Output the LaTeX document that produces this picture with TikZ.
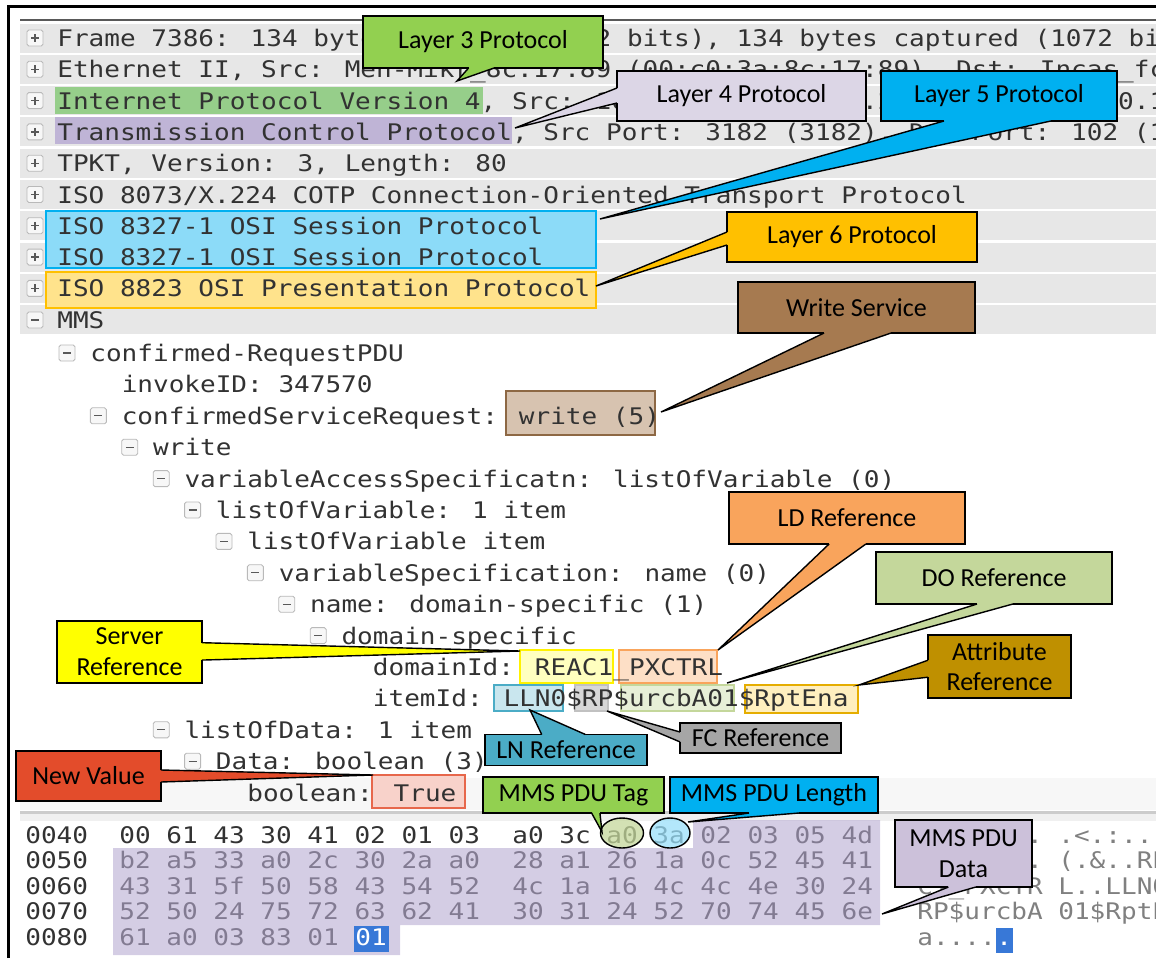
\documentclass[tikz,border=0pt]{standalone}
\usepackage{fontspec}
\usepackage{tikz}
\usetikzlibrary{positioning,calc,shapes.geometric}
\newfontfamily\wsfont[FakeStretch=1.14]{DejaVu Sans Mono}
\newfontfamily\callfont{Carlito}
\definecolor{rowgrey}{RGB}{231,231,231}
\definecolor{wstext}{RGB}{50,50,50}
\definecolor{ipmark}{RGB}{150,206,138}
\definecolor{laythree}{RGB}{146,208,80}
\definecolor{layfour}{RGB}{220,214,230}
\definecolor{layfive}{RGB}{0,176,240}
\definecolor{laysix}{RGB}{255,192,0}
\definecolor{service}{RGB}{166,122,80}
\definecolor{ldref}{RGB}{249,164,92}
\definecolor{doref}{RGB}{196,215,155}
\definecolor{attref}{RGB}{191,144,0}
\definecolor{fcref}{RGB}{166,166,166}
\definecolor{lnref}{RGB}{75,172,198}
\definecolor{srvref}{RGB}{255,255,0}
\definecolor{newval}{RGB}{227,76,43}
\definecolor{pdudata}{RGB}{204,193,218}
\definecolor{hexmark}{RGB}{184,172,210}
\definecolor{selblue}{RGB}{56,120,215}
\tikzset{
  treetext/.style={anchor=base west, inner sep=0pt, text=wstext,
    font=\wsfont\fontsize{13}{15}\selectfont},
  callbox/.style={draw, line width=0.8pt, outer sep=0pt, inner sep=0pt,
    align=center, font=\callfont\fontsize{14.8}{17.5}\selectfont},
  arm/.style={line width=0.8pt},
  expbox/.style={draw=gray!55, fill=gray!6, rounded corners=1pt, line width=0.5pt},
  expsign/.style={draw=gray!70!black, line width=0.7pt},
  fieldmark/.style={line width=1.2pt}
}
% tree expanders
\newcommand{\expplus}[2]{%
  \draw[expbox] (#1-8,#2-8) rectangle (#1+8,#2+8);
  \draw[expsign] (#1-4,#2) -- (#1+4,#2) (#1,#2-4) -- (#1,#2+4);}
\newcommand{\expminus}[2]{%
  \draw[expbox] (#1-8,#2-8) rectangle (#1+8,#2+8);
  \draw[expsign] (#1-4,#2) -- (#1+4,#2);}
% pointer of a callout: colour, base start, base end, tip
\newcommand{\calloutarm}[4]{%
  \fill[#1] (#2) -- (#4) -- (#3) -- cycle;
  \draw[#1, line width=1.6pt] (#2) -- (#3);
  \draw[arm] (#2) -- (#4) -- (#3);}

\begin{document}
\begin{tikzpicture}[x=0.2mm, y=-0.2mm]
\useasboundingbox (0,0) rectangle (1156,958);

% window frame
\draw[line width=0.6mm] (8,958) -- (8,6) -- (1160,6);
\draw[gray!70!black, line width=0.4mm] (20,20) -- (1160,20);

% row backgrounds
\foreach \i in {0,...,9}
  \fill[rowgrey] (20,38+31.3*\i-14.5) rectangle (1160,38+31.3*\i+14.5);
\fill[gray!6] (20,778) rectangle (1160,810);

% highlighted fields
\fill[ipmark] (55,87) rectangle (483,114);
\fill[hexmark!90] (55,117) rectangle (512,144);
\draw[fieldmark, draw=layfive, fill=layfive!45] (46,211) rectangle (596,268);
\draw[fieldmark, draw=laysix, fill=laysix!45] (46,272) rectangle (596,308);
\draw[fieldmark, draw=service!85!black, fill=service!45] (506,391) rectangle (655,435);
\draw[fieldmark, draw=srvref!90!orange, fill=srvref!25] (520,650) rectangle (613,683);
\draw[fieldmark, draw=ldref, fill=ldref!35] (619,650) rectangle (717,683);
\draw[fieldmark, draw=lnref, fill=lnref!30] (494,685) rectangle (563,711);
\draw[fieldmark, draw=fcref!70, fill=fcref!45] (575,685) rectangle (608,711);
\draw[fieldmark, draw=doref, fill=doref!40] (621,685) rectangle (734,711);
\draw[fieldmark, draw=laysix!90!black, fill=laysix!25] (745,685) rectangle (858,713);
\draw[fieldmark, draw=newval!85, fill=newval!25] (372,775) rectangle (465,808);

% packet details, collapsed layers
\foreach \txt [count=\i from 0] in {
  {Frame 7386: 134 bytes on wire (1072 bits), 134 bytes captured (1072 bits)},
  {Ethernet II, Src: Men-Mikr\_8c:17:89 (00:c0:3a:8c:17:89), Dst: Incas\_fc:00:00},
  {Internet Protocol Version 4, Src: 10.0.0.20 (10.0.0.20), Dst: 10.0.0.10 (10.0.0.10)},
  {Transmission Control Protocol, Src Port: 3182 (3182), Dst Port: 102 (102)},
  {TPKT, Version: 3, Length: 80},
  {ISO 8073/X.224 COTP Connection-Oriented Transport Protocol},
  {ISO 8327-1 OSI Session Protocol},
  {ISO 8327-1 OSI Session Protocol},
  {ISO 8823 OSI Presentation Protocol}}{
  \expplus{35}{38+31.3*\i}
  \node[treetext] (row\i) at (57,38+31.3*\i+8.5) {\txt};
}
\expminus{35}{320}
\node[treetext] (row9) at (57,320+8.5) {MMS};

% MMS tree
\foreach \lvl/\txt [count=\k from 0] in {0/confirmed-RequestPDU, 1/{invokeID: 347570},
  1/{confirmedServiceRequest: write (5)}, 2/write,
  3/{variableAccessSpecificatn: listOfVariable (0)}, 4/{listOfVariable: 1 item},
  5/{listOfVariable item}, 6/{variableSpecification: name (0)},
  7/{name: domain-specific (1)}, 8/domain-specific, 9/{domainId: REAC1\_PXCTRL},
  9/{itemId: LLN0\$RP\$urcbA01\$RptEna}, 3/{listOfData: 1 item},
  4/{Data: boolean (3)}, 5/{boolean: True}}
  \node[treetext] (tree\k) at (90+31.4*\lvl,353+31.4*\k+8.5) {\txt};
\foreach \k/\lvl in {0/0,2/1,3/2,4/3,5/4,6/5,7/6,8/7,9/8,12/3,13/4}{
  \expminus{90+31.4*\lvl-23}{353+31.4*\k}
}

% bytes pane
\fill[gray!40] (20,811) rectangle (1160,814);
\fill[gray!12] (20,814) rectangle (1160,821);
\foreach \off/\lhex/\rhex/\lasc/\rasc [count=\i from 0] in {
  0040/{00 61 43 30 41 02 01 03}/{a0 3c a0 3a 02 03 05 4d}/{.aC0A...}/{.<.:...M},
  0050/{b2 a5 33 a0 2c 30 2a a0}/{28 a1 26 1a 0c 52 45 41}/{..3.,0*.}/{(.\&..REA},
  0060/{43 31 5f 50 58 43 54 52}/{4c 1a 16 4c 4c 4e 30 24}/{C1\_PXCTR}/{L..LLN0\$},
  0070/{52 50 24 75 72 63 62 41}/{30 31 24 52 70 74 45 6e}/{RP\$urcbA}/{01\$RptEn}}{
  \node[treetext] (off\i) at (25,836+25.5*\i+7) {\off};
  \node[treetext] (hexl\i) at (119,836+25.5*\i+7) {\lhex};
  \node[treetext] (hexr\i) at (512,836+25.5*\i+7) {\rhex};
  \node[treetext, text=gray] (ascl\i) at (917,836+25.5*\i+7) {\lasc};
  \node[treetext, text=gray] (ascr\i) at (1058,836+25.5*\i+7) {\rasc};
}
\node[treetext] (off4) at (25,938+7) {0080};
\node[treetext] (hexl4) at (119,938+7) {61 a0 03 83 01};
\node[treetext, text=gray] (ascl4) at (917,938+7) {a....};
\fill[hexmark, fill opacity=0.6] (693,820) -- (880,820) -- (880,925) -- (400,925)
  -- (400,955) -- (113,955) -- (113,848) -- (693,848) -- cycle;
\fill[selblue] (354,926) rectangle (389,952);
\node[treetext, text=white] (hexsel) at (355,938+7) {01};
\fill[selblue] (996,928) rectangle (1013,953);
\node[treetext, text=white] (ascsel) at (996,938+7) {.};
\node[draw, ellipse, line width=0.8pt, fill=doref, fill opacity=0.75, draw opacity=1,
  minimum width=8.6mm, minimum height=6mm] (tagring) at (622,833) {};
\node[draw, ellipse, line width=0.8pt, fill=layfive!40, fill opacity=0.75, draw opacity=1,
  minimum width=8mm, minimum height=6mm] (lenring) at (670,833) {};

% pointer tips
\coordinate (t3) at (457,81);
\coordinate (t4) at (515,128);
\coordinate (t5) at (600,219);
\coordinate (t6) at (596,286);
\coordinate (tws) at (661,412);
\coordinate (tld) at (718,650);
\coordinate (tdo) at (727,683);
\coordinate (tatt) at (859,685);
\coordinate (tfc) at (607,711);
\coordinate (tln) at (530,710);
\coordinate (tsrv) at (520,651);
\coordinate (tnv) at (373,775);
\coordinate (ttag) at (602,832);
\coordinate (tlen) at (688,822);
\coordinate (tpdu) at (882,914);

% callouts
\node[callbox, fill=laythree, minimum width=48mm, minimum height=10.4mm] (l3) at (483,42) {Layer 3 Protocol};
\calloutarm{laythree}{$(l3.south west)!0.44!(l3.south east)$}{$(l3.south west)!0.546!(l3.south east)$}{t3}
\node[callbox, fill=layfour, minimum width=49.8mm, minimum height=10mm] (l4) at (741.5,96) {Layer 4 Protocol};
\calloutarm{layfour}{$(l4.north west)!0.34!(l4.south west)$}{$(l4.north west)!0.64!(l4.south west)$}{t4}
\node[callbox, fill=layfive, minimum width=47.2mm, minimum height=10mm] (l5) at (999,96) {Layer 5 Protocol};
\calloutarm{layfive}{$(l5.south west)!0.267!(l5.south east)$}{$(l5.south west)!0.72!(l5.south east)$}{t5}
\node[callbox, fill=laysix, minimum width=50mm, minimum height=10mm] (l6) at (852,237) {Layer 6 Protocol};
\calloutarm{laysix}{$(l6.north west)!0.4!(l6.south west)$}{$(l6.north west)!0.66!(l6.south west)$}{t6}
\node[callbox, fill=service, minimum width=47.4mm, minimum height=10.2mm] (ws) at (856.5,307.5) {Write Service};
\calloutarm{service}{$(ws.south west)!0.363!(ws.south east)$}{$(ws.south west)!0.646!(ws.south east)$}{tws}
\node[callbox, fill=ldref, minimum width=47.2mm, minimum height=10.4mm] (ld) at (847,518) {LD Reference};
\calloutarm{ldref}{$(ld.south west)!0.424!(ld.south east)$}{$(ld.south west)!0.58!(ld.south east)$}{tld}
\node[callbox, fill=doref, minimum width=47.2mm, minimum height=10.4mm] (do) at (994,578) {DO Reference};
\calloutarm{doref}{$(do.south west)!0.428!(do.south east)$}{$(do.south west)!0.58!(do.south east)$}{tdo}
\node[callbox, fill=attref, minimum width=28.6mm, minimum height=12.6mm] (att) at (999.5,666.5) {Attribute\\Reference};
\calloutarm{attref}{$(att.north west)!0.4!(att.south west)$}{$(att.north west)!0.67!(att.south west)$}{tatt}
\node[callbox, fill=fcref, minimum width=32.2mm, minimum height=6mm] (fc) at (760.5,738) {FC Reference};
\calloutarm{fcref}{$(fc.north west)!0.3!(fc.south west)$}{$(fc.north west)!0.63!(fc.south west)$}{tfc}
\node[callbox, fill=lnref, minimum width=32.4mm, minimum height=6.2mm] (ln) at (566,750) {LN Reference};
\calloutarm{lnref}{$(ln.north west)!0.35!(ln.north east)$}{$(ln.north west)!0.62!(ln.north east)$}{tln}
\node[callbox, fill=srvref, minimum width=29mm, minimum height=12.4mm] (srv) at (129.5,652) {Server\\Reference};
\calloutarm{srvref}{$(srv.north east)!0.35!(srv.south east)$}{$(srv.north east)!0.63!(srv.south east)$}{tsrv}
\node[callbox, fill=newval, minimum width=29mm, minimum height=10mm] (nv) at (88.5,776) {New Value};
\calloutarm{newval}{$(nv.north east)!0.38!(nv.south east)$}{$(nv.north east)!0.62!(nv.south east)$}{tnv}
\node[callbox, fill=laythree, minimum width=36.2mm, minimum height=7.2mm] (tag) at (573.5,795) {MMS PDU Tag};
\calloutarm{laythree}{$(tag.south west)!0.6!(tag.south east)$}{$(tag.south west)!0.646!(tag.south east)$}{ttag}
\node[callbox, fill=layfive, minimum width=41.6mm, minimum height=7.2mm] (len) at (774,795) {MMS PDU Length};
\calloutarm{layfive}{$(len.south west)!0.38!(len.south east)$}{$(len.south west)!0.62!(len.south east)$}{tlen}
\node[callbox, fill=pdudata, minimum width=27.4mm, minimum height=13.4mm] (pdu) at (963.5,853.5) {MMS PDU\\Data};
\calloutarm{pdudata}{$(pdu.south west)!0.39!(pdu.south east)$}{$(pdu.south west)!0.59!(pdu.south east)$}{tpdu}
\end{tikzpicture}
\end{document}
